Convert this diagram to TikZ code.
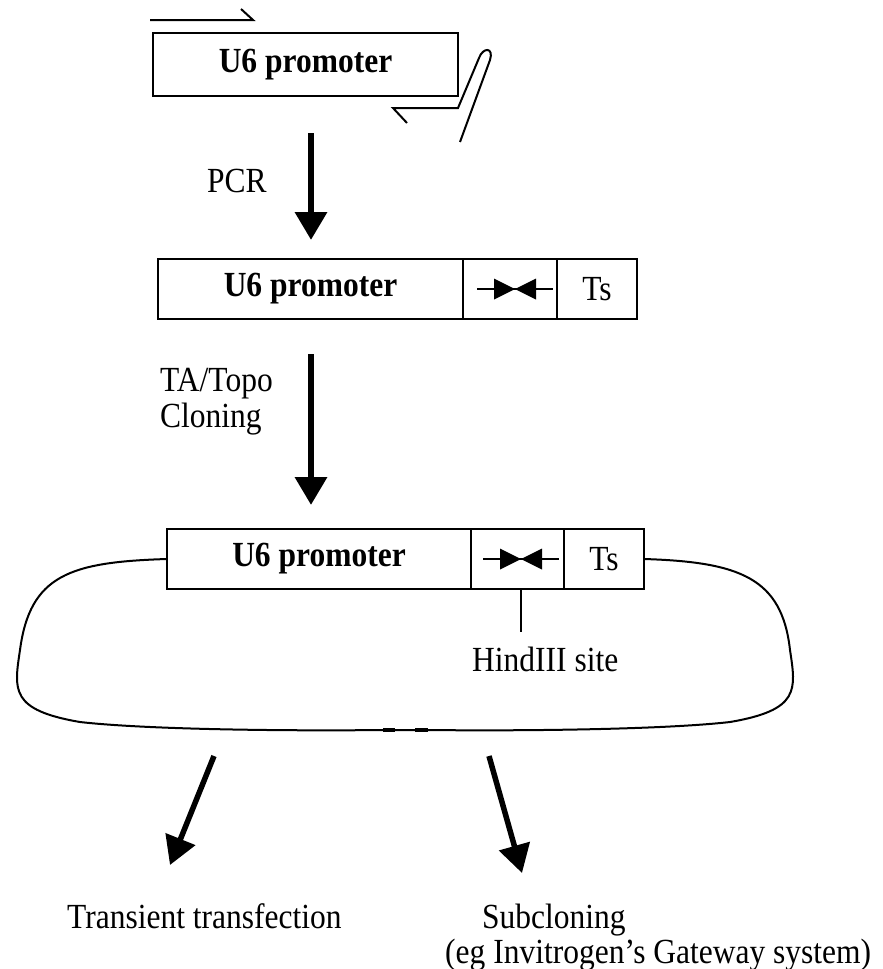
\documentclass[tikz,border=0pt]{standalone}
\usepackage{graphicx}
\usepackage{fontspec}
\setmainfont{Liberation Serif}
\usetikzlibrary{arrows.meta,positioning}

\newcommand{\lblfont}{\fontsize{31.5}{35}\selectfont}
\newcommand{\tall}[1]{\scalebox{1}[1.12]{#1}}
\tikzset{
  cell/.style={rectangle, draw, line width=2pt, minimum height=60pt, inner sep=0pt, outer sep=0pt},
  fine/.style={line width=2pt},
  flow/.style={line width=6.5pt, -{Triangle[length=28pt,width=31pt]}},
  lbl/.style={anchor=base west, inner sep=0pt, yscale=1.12},
}
% the two facing arrow heads of the HindIII site
\newcommand{\hsite}[1]{%
  \draw[fine] ([xshift=-38pt]#1) -- ([xshift=38pt]#1);
  \fill ([xshift=-21pt,yshift=10.5pt]#1) -- (#1) -- ([xshift=-21pt,yshift=-10.5pt]#1) -- cycle;
  \fill ([xshift=21pt,yshift=10.5pt]#1) -- (#1) -- ([xshift=21pt,yshift=-10.5pt]#1) -- cycle;
}

\begin{document}
\begin{tikzpicture}[x=1pt, y=-1pt, every node/.style={font=\lblfont}]
\useasboundingbox (0,0) rectangle (883,969);

% template and primers
\node[cell, minimum width=305pt, minimum height=63pt] (t1) at (305.5,64.5) {\tall{\textbf{U6 promoter}}};
\draw[fine] (150,20) -- (253,20) -- (241,9);
\draw[fine] (407,123) -- (393,108) -- (458,108) -- (479,58) .. controls (483,47) and (494,47) .. (490,60) -- (460,142);

\coordinate (a1) at (311,133);
\coordinate (a2) at (311,240);
\draw[flow] (a1) -- (a2);
\node[lbl] (pcr) at (207,192) {PCR};

% PCR product
\node[cell, minimum width=305pt] (m1) at (310.5,289) {\tall{\textbf{U6 promoter}}};
\node[cell, minimum width=94pt, right=0pt of m1] (m2) {};
\node[cell, minimum width=80pt, right=0pt of m2] (m3) {\tall{Ts}};
\coordinate (s1) at ([xshift=5pt]m2.center);
\hsite{s1}

\coordinate (a3) at (311,354);
\coordinate (a4) at (311,505);
\draw[flow] (a3) -- (a4);
\node[lbl, align=left, font=\fontsize{31.5}{31.5}\selectfont] (ta) at (160,427) {TA/Topo\\Cloning};

% plasmid
\node[cell, minimum width=304pt] (b1) at (319,559) {\tall{\textbf{U6 promoter}}};
\node[cell, minimum width=93pt, right=0pt of b1] (b2) {};
\node[cell, minimum width=80pt, right=0pt of b2] (b3) {\tall{Ts}};
\coordinate (s2) at ([xshift=3.5pt]b2.center);
\hsite{s2}
\draw[fine] (s2 |- b2.south) -- ++(0,43);
\node[lbl] (hind) at (472,671) {HindIII site};

\draw[fine] (b1.west) .. controls (70,562) and (30,575) .. (20,650)
  .. controls (14,690) and (10,710) .. (80,722)
  .. controls (150,730) and (300,731) .. (383,730) -- (428,730);
\draw[fine] (b3.east) .. controls (740,562) and (782,578) .. (790,650)
  .. controls (796,690) and (800,710) .. (730,722)
  .. controls (660,730) and (510,731) .. (428,730);
\draw[line width=4pt] (383,730) -- (395,730);
\draw[line width=4pt] (415,730) -- (428,730);

% what follows
\coordinate (a5) at (214,756);
\coordinate (a6) at (170,865);
\coordinate (a7) at (489,756);
\coordinate (a8) at (522,873);
\draw[flow, line width=5.5pt] (a5) -- (a6);
\draw[flow, line width=5.5pt] (a7) -- (a8);

\node[lbl] (trans) at (67,928) {Transient transfection};
\node[lbl] (sub) at (482,928) {Subcloning};
\node[lbl] (gate) at (445,963) {(eg Invitrogen’s Gateway system)};
\end{tikzpicture}
\end{document}
